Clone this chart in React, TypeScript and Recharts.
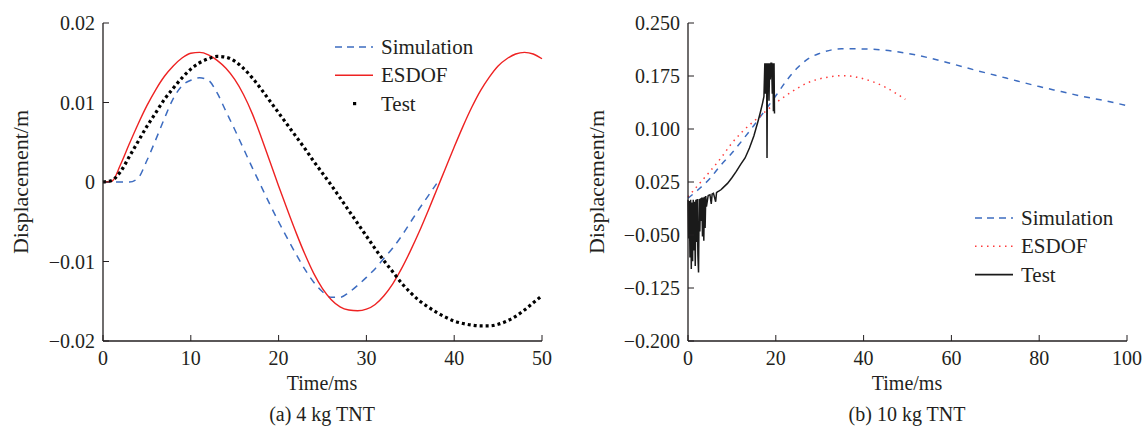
import { LineChart, Line, XAxis, YAxis, Legend } from "recharts";

// (a) 4 kg TNT, time in ms
const timeA = [
  0, 1, 2, 3, 4, 5, 6, 7, 8, 9, 10, 11, 12, 13, 14, 15, 16, 17, 18, 19, 20, 21, 22, 23, 24, 25,
  26, 27, 28, 29, 30, 31, 32, 33, 34, 35, 36, 37, 38, 39, 40, 41, 42, 43, 44, 45, 46, 47, 48, 49, 50,
];
const simulationA = [
  0, 0, 0, 0, 0.0005, 0.0027, 0.0053, 0.008, 0.0105, 0.0121, 0.0128, 0.0131, 0.0128, 0.0112, 0.0089,
  0.0066, 0.0042, 0.0018, -0.0005, -0.0028, -0.005, -0.0071, -0.0091, -0.011, -0.0126, -0.0138,
  -0.0145, -0.0145, -0.0139, -0.013, -0.012, -0.0109, -0.0096, -0.0083, -0.0068, -0.0051, -0.0034,
  -0.0018, -0.0002,
];
const esdofA = [
  0, 0.0001, 0.0022, 0.0048, 0.0073, 0.0096, 0.0116, 0.0133, 0.0146, 0.0156, 0.0162, 0.0163, 0.016,
  0.0153, 0.0143, 0.0129, 0.011, 0.0086, 0.0057, 0.0026, -0.0005, -0.0035, -0.0064, -0.0091,
  -0.0115, -0.0134, -0.0148, -0.0157, -0.0161, -0.0162, -0.016, -0.0154, -0.0143, -0.0128, -0.0109,
  -0.0087, -0.0063, -0.0037, -0.001, 0.0017, 0.0044, 0.007, 0.0094, 0.0115, 0.0132, 0.0146, 0.0155,
  0.0161, 0.0163, 0.0161, 0.0155,
];
const testA = [
  0, 0.0002, 0.0013, 0.0032, 0.0051, 0.007, 0.0087, 0.0104, 0.0118, 0.0131, 0.0142, 0.015, 0.0155,
  0.0158, 0.0157, 0.0152, 0.0143, 0.0131, 0.0117, 0.0102, 0.0087, 0.0072, 0.0057, 0.0042, 0.0026,
  0.0011, -0.0004, -0.002, -0.0036, -0.0052, -0.0068, -0.0084, -0.0099, -0.0113, -0.0127, -0.0139,
  -0.0149, -0.0157, -0.0164, -0.017, -0.0175, -0.0178, -0.018, -0.0181, -0.0181, -0.0179, -0.0175,
  -0.0169, -0.0161, -0.0152, -0.0143,
];

// (b) 10 kg TNT
const simTimeB = [0, 2.5, 5, 7.5, 10, 12.5, 15, 17.5, 20, 22.5, 25, 27.5, 30, 35, 40, 45, 50, 55, 60, 65, 70, 75, 80, 85, 90, 95, 100];
const simulationB = [
  0.002, 0.015, 0.03, 0.049, 0.066, 0.085, 0.105, 0.126, 0.147, 0.169, 0.187, 0.2, 0.207, 0.2135,
  0.2133, 0.2115, 0.207, 0.2005, 0.1925, 0.184, 0.176, 0.168, 0.16, 0.153, 0.146, 0.14, 0.133,
];
const esdofTimeB = [0, 2.5, 5, 7.5, 10, 12.5, 15, 17.5, 20, 22.5, 25, 27.5, 30, 32.5, 35, 37.5, 40, 42.5, 45, 47.5, 49.5];
const esdofB = [
  0.004, 0.022, 0.04, 0.059, 0.08, 0.097, 0.111, 0.124, 0.137, 0.148, 0.158, 0.166, 0.171, 0.174,
  0.1755, 0.1745, 0.171, 0.166, 0.159, 0.15, 0.142,
];
const testTimeB = [
  0, 0.15, 0.3, 0.45, 0.6, 0.75, 0.9, 1.05, 1.2, 1.35, 1.5, 1.65, 1.8, 1.95, 2.1, 2.25, 2.4, 2.55,
  2.7, 2.85, 3.0, 3.15, 3.3, 3.45, 3.6, 3.75, 3.9, 4.05, 4.2, 4.6, 5.0, 5.3, 5.5, 5.8, 6.3, 6.5, 6.7,
  7.0, 7.5, 8, 9, 10, 11, 12, 13, 14, 15, 16, 16.5, 17, 17.3, 17.5, 17.6, 17.7, 17.8, 17.9, 18.0,
  18.1, 18.2, 18.3, 18.45, 18.6, 18.75, 18.9, 19.05, 19.2, 19.35, 19.45, 19.6, 19.7,
];
const testB = [
  0.0, -0.055, -0.002, -0.082, 0.0, -0.098, -0.004, -0.087, 0.0, -0.072, -0.003, -0.094, 0.0, -0.06,
  0.001, -0.078, -0.103, 0.001, -0.045, 0.002, -0.03, 0.003, -0.052, 0.003, -0.058, 0.004, -0.04,
  0.005, -0.01, 0.006, 0.007, -0.006, 0.008, 0.009, -0.003, 0.01, 0.011, 0.012, 0.014, 0.017, 0.023,
  0.031, 0.04, 0.05, 0.059, 0.073, 0.09, 0.112, 0.124, 0.137, 0.146, 0.193, 0.15, 0.193, 0.16, 0.193,
  0.059, 0.193, 0.165, 0.193, 0.14, 0.193, 0.17, 0.193, 0.193, 0.15, 0.193, 0.125, 0.193, 0.122,
];

// axis ticks and labels
const xTicksA = [0, 10, 20, 30, 40, 50];
const yTicksA = [-0.02, -0.01, 0, 0.01, 0.02];
const yLabelsA = ["−0.02", "−0.01", "0", "0.01", "0.02"];
const xTicksB = [0, 20, 40, 60, 80, 100];
const yTicksB = [-0.2, -0.125, -0.05, 0.025, 0.1, 0.175, 0.25];
const yLabelsB = ["−0.200", "−0.125", "−0.050", "0.025", "0.100", "0.175", "0.250"];

const seriesNames = ["Simulation", "ESDOF", "Test"];

const FONT = "'Liberation Serif', 'Times New Roman', serif";
const INK = "#231f20";
const BLUE = "#3d6cc0";
const RED = "#ee2222";

const rowsA = timeA.map((t, i) => ({
  t,
  sim: i < simulationA.length ? simulationA[i] : null,
  esdof: esdofA[i],
  test: testA[i],
}));
const simRowsB = simTimeB.map((t, i) => ({ t, v: simulationB[i] }));
const esdofRowsB = esdofTimeB.map((t, i) => ({ t, v: esdofB[i] }));
const testRowsB = testTimeB.map((t, i) => ({ t, v: testB[i] }));

const tickStyle = { fontSize: 20, fill: INK, fontFamily: FONT };
const axisLine = { stroke: INK, strokeWidth: 1.3 };

type LegendItem = { name: string; kind: "dash" | "solid" | "dot" | "dotted"; color: string };

function LegendBox({ items }: { items: LegendItem[] }) {
  return (
    <svg width={170} height={90} style={{ display: "block" }}>
      {items.map((it, i) => {
        const y = 14 + i * 28.3;
        let mark;
        if (it.kind === "dot") {
          mark = <rect x={18} y={y - 1.6} width={3.2} height={3.2} fill={it.color} />;
        } else {
          mark = (
            <line
              x1={0}
              x2={38}
              y1={y}
              y2={y}
              stroke={it.color}
              strokeWidth={it.kind === "dotted" ? 1.5 : 1.6}
              strokeDasharray={it.kind === "dash" ? "7 5" : it.kind === "dotted" ? "1.5 4.5" : undefined}
            />
          );
        }
        return (
          <g key={it.name}>
            {mark}
            <text x={46} y={y + 7} fontSize={21} fontFamily={FONT} fill={INK}>
              {it.name}
            </text>
          </g>
        );
      })}
    </svg>
  );
}

const textAbs = (extra: Record<string, string | number>) => ({
  position: "absolute" as const,
  fontFamily: FONT,
  fontSize: 20,
  color: INK,
  whiteSpace: "nowrap" as const,
  ...extra,
});

export default function App() {
  return (
    <div style={{ position: "absolute", left: 0, top: 0, width: 1142, height: 431, background: "#fff" }}>
      {/* (a) */}
      <div style={{ position: "absolute", left: 0, top: 0 }}>
        <LineChart width={560} height={431} data={rowsA} margin={{ top: 23, right: 18, bottom: 60, left: 43 }}>
          <XAxis
            dataKey="t"
            type="number"
            domain={[0, 50]}
            ticks={xTicksA}
            height={30}
            axisLine={axisLine}
            tickLine={{ stroke: INK }}
            tickSize={-6}
            tickMargin={16}
            tick={tickStyle}
          />
          <XAxis xAxisId="top" orientation="top" dataKey="t" type="number" domain={[0, 50]} height={0} tick={false} tickLine={false} axisLine={axisLine} />
          <YAxis
            type="number"
            domain={[-0.02, 0.02]}
            ticks={yTicksA}
            width={60}
            axisLine={axisLine}
            tickLine={{ stroke: INK }}
            tickSize={-6}
            tickMargin={14}
            tick={tickStyle}
            tickFormatter={(v: number) => yLabelsA[yTicksA.indexOf(v)] ?? String(v)}
          />
          <YAxis yAxisId="right" orientation="right" domain={[-0.02, 0.02]} width={0} tick={false} tickLine={false} axisLine={axisLine} />
          <Legend
            layout="vertical"
            align="center"
            verticalAlign="middle"
            wrapperStyle={{ top: 33, left: 335, width: 170 }}
            content={() => (
              <LegendBox
                items={[
                  { name: seriesNames[0], kind: "dash", color: BLUE },
                  { name: seriesNames[1], kind: "solid", color: RED },
                  { name: seriesNames[2], kind: "dot", color: "#000" },
                ]}
              />
            )}
          />
          <Line dataKey="sim" type="monotone" stroke={BLUE} strokeWidth={1.5} strokeDasharray="7 6" dot={false} isAnimationActive={false} connectNulls={false} />
          <Line dataKey="esdof" type="monotone" stroke={RED} strokeWidth={1.4} dot={false} isAnimationActive={false} />
          <Line dataKey="test" type="monotone" stroke="#000" strokeWidth={3.2} strokeDasharray="3 3" dot={false} isAnimationActive={false} />
        </LineChart>
      </div>

      {/* (b) */}
      <div style={{ position: "absolute", left: 580, top: 0 }}>
        <LineChart width={562} height={431} margin={{ top: 23, right: 15, bottom: 60, left: 48 }}>
          <XAxis
            dataKey="t"
            type="number"
            domain={[0, 100]}
            ticks={xTicksB}
            height={30}
            axisLine={axisLine}
            tickLine={{ stroke: INK }}
            tickSize={-6}
            tickMargin={16}
            tick={tickStyle}
            allowDuplicatedCategory={false}
          />
          <XAxis xAxisId="top" orientation="top" dataKey="t" type="number" domain={[0, 100]} height={0} tick={false} tickLine={false} axisLine={axisLine} />
          <YAxis
            type="number"
            domain={[-0.2, 0.25]}
            ticks={yTicksB}
            width={60}
            axisLine={axisLine}
            tickLine={{ stroke: INK }}
            tickSize={-6}
            tickMargin={14}
            tick={tickStyle}
            tickFormatter={(v: number) => yLabelsB[yTicksB.indexOf(v)] ?? String(v)}
          />
          <YAxis yAxisId="right" orientation="right" domain={[-0.2, 0.25]} width={0} tick={false} tickLine={false} axisLine={axisLine} />
          <Legend
            layout="vertical"
            align="center"
            verticalAlign="middle"
            wrapperStyle={{ top: 204, left: 395, width: 170 }}
            content={() => (
              <LegendBox
                items={[
                  { name: seriesNames[0], kind: "dash", color: BLUE },
                  { name: seriesNames[1], kind: "dotted", color: "#ff3b3b" },
                  { name: seriesNames[2], kind: "solid", color: "#1a1a1a" },
                ]}
              />
            )}
          />
          <Line data={simRowsB} dataKey="v" name="Simulation" type="monotone" stroke={BLUE} strokeWidth={1.5} strokeDasharray="6 6" dot={false} isAnimationActive={false} />
          <Line data={esdofRowsB} dataKey="v" name="ESDOF" type="monotone" stroke="#ff3b3b" strokeWidth={1.5} strokeDasharray="1.5 4.5" dot={false} isAnimationActive={false} />
          <Line data={testRowsB} dataKey="v" name="Test" type="linear" stroke="#1a1a1a" strokeWidth={1.5} dot={false} isAnimationActive={false} />
        </LineChart>
      </div>

      {/* axis titles and captions */}
      <div style={textAbs({ left: 21, top: 182, fontSize: 22, transform: "translate(-50%, -50%) rotate(-90deg)" })}>Displacement/m</div>
      <div style={textAbs({ left: 597, top: 182, fontSize: 22, transform: "translate(-50%, -50%) rotate(-90deg)" })}>Displacement/m</div>
      <div style={textAbs({ left: 322, top: 372, transform: "translateX(-50%)" })}>Time/ms</div>
      <div style={textAbs({ left: 907, top: 372, transform: "translateX(-50%)" })}>Time/ms</div>
      <div style={textAbs({ left: 322, top: 403, transform: "translateX(-50%)" })}>(a) 4 kg TNT</div>
      <div style={textAbs({ left: 907, top: 403, transform: "translateX(-50%)" })}>(b) 10 kg TNT</div>
    </div>
  );
}
